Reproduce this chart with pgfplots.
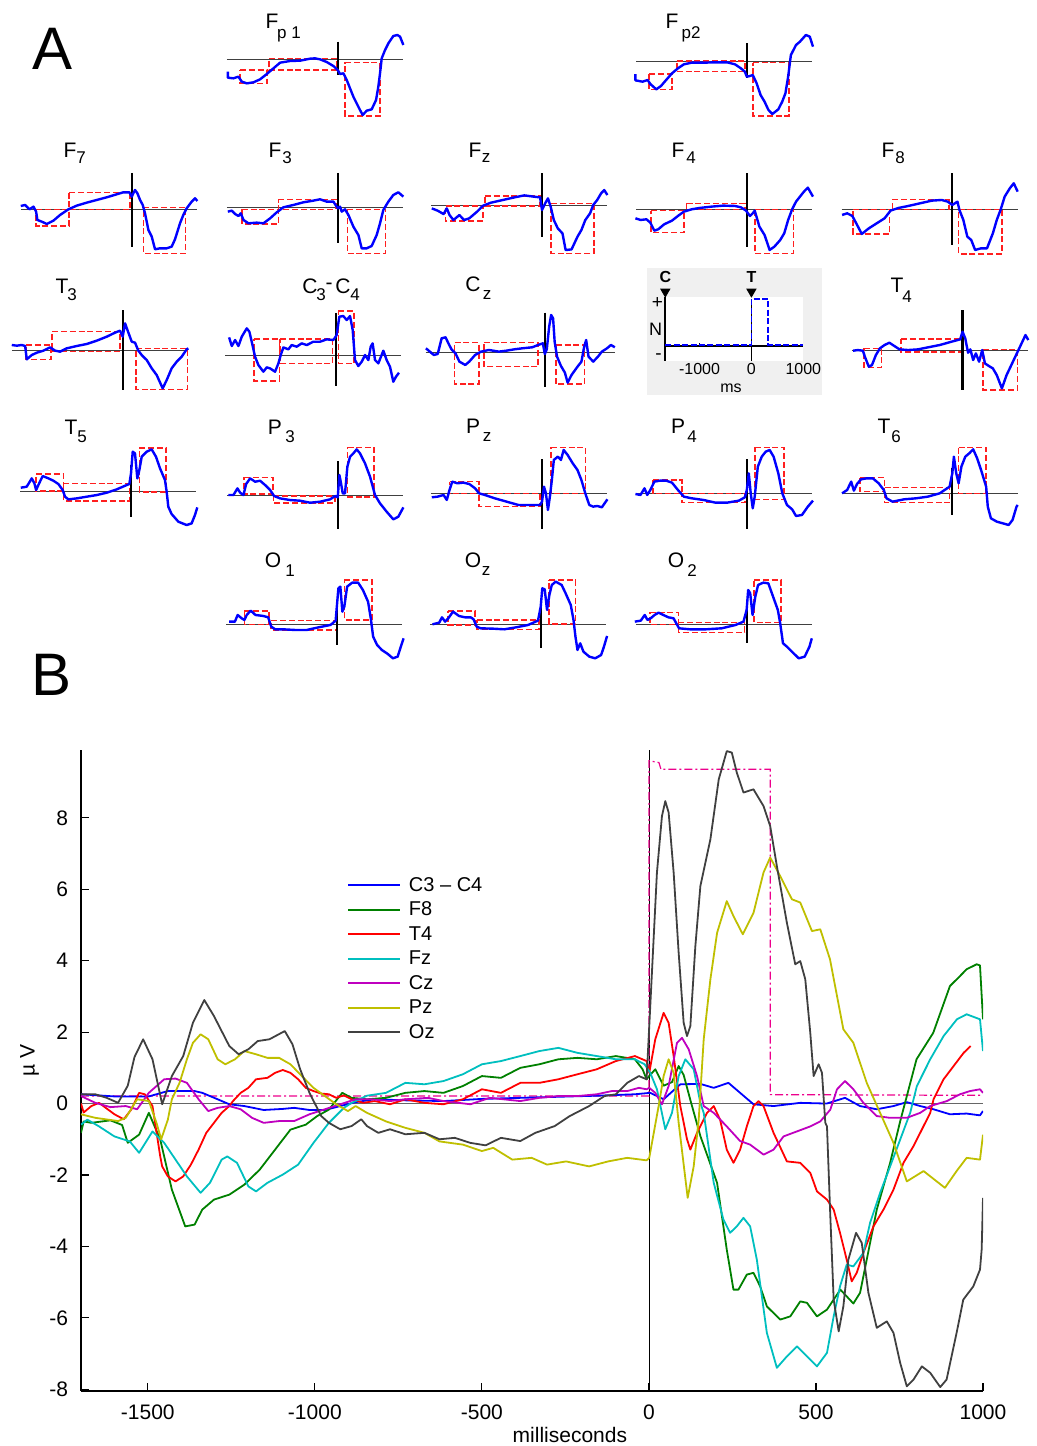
\documentclass[border=0pt]{standalone}
\usepackage{fontspec}
\setmainfont{Liberation Sans}
\usepackage{pgfplots}
\pgfplotsset{compat=1.18}
\definecolor{mcyan}{rgb}{0,0.75,0.75}
\definecolor{mmag}{rgb}{0.75,0,0.75}
\definecolor{myel}{rgb}{0.75,0.75,0}
\definecolor{mgreen}{rgb}{0,0.5,0}
\definecolor{mgray}{rgb}{0.25,0.25,0.25}
\definecolor{boxred}{rgb}{1,0.12,0.12}

% small electrode plots: #1 = left edge (px), #2 = zero line (px)
\pgfplotsset{
  mini/.style n args={2}{at={(#1*0.5pt,-#2*0.5pt)}, anchor=west,
    width=88pt, height=66.667pt, scale only axis,
    xmin=-1700, xmax=1000, ymin=-200, ymax=200,
    axis lines=none, ticks=none, clip=false},
  hline/.style={black!75, line width=0.5pt},
  vline/.style={black, line width=1.1pt},
  rbox/.style={boxred, line width=0.8pt, dash pattern=on 3pt off 1.4pt},
  trace/.style={blue, line width=1.2pt, line join=round},
  eeg/.style={line width=0.9pt, line join=round},
}
\newcommand\hl{\addplot[hline] coordinates {(-1700,0) (1000,0)};}
\newcommand\vl[2]{\addplot[vline] coordinates {(0,#1) (0,#2)};}
\newcommand\rbox[4]{\addplot[rbox] coordinates {(#1,#3) (#2,#3) (#2,#4) (#1,#4) (#1,#3)};}
\newcommand\lab[6]{%
  \node[font=\fontsize{10.5}{12}\selectfont] at ({#1*0.5pt},{-#2*0.5pt}) {#3};
  \node[font=\fontsize{8.5}{10}\selectfont] at ({#4*0.5pt},{-#5*0.5pt}) {#6};}

\begin{document}
\begin{tikzpicture}
\useasboundingbox (0,0) rectangle (518.5pt,-723pt);

\node[font=\fontsize{30}{36}\selectfont] at (26.25pt,-24.5pt) {A};
\node[font=\fontsize{30}{36}\selectfont] at (26pt,-337.5pt) {B};

% ---------------- panel A labels
\lab{272}{21}{F}{289}{34}{p 1}
\lab{672}{21}{F}{691}{34}{p2}
\lab{70}{150}{F}{81}{158}{7}
\lab{275}{150}{F}{287}{158}{3}
\lab{475}{150}{F}{486}{158}{z}
\lab{678}{150}{F}{691}{158}{4}
\lab{888}{150}{F}{900}{158}{8}
\lab{62}{286}{T}{72}{295}{3}
\lab{310}{286}{C}{321}{295}{3}
\lab{343}{286}{C}{355}{295}{4}
\node[font=\fontsize{10.5}{12}\selectfont] at (164.5pt,-143pt) {-};
\lab{473}{284}{C}{487}{295}{z}
\lab{897}{285}{T}{907}{297}{4}
\lab{71}{427}{T}{82}{437}{5}
\lab{275}{427}{P}{290}{437}{3}
\lab{473}{426}{P}{487}{437}{z}
\lab{678}{426}{P}{692}{437}{4}
\lab{884}{426}{T}{896}{437}{6}
\lab{273}{560}{O}{290}{571}{1}
\lab{473}{560}{O}{486}{571}{z}
\lab{676}{560}{O}{692}{571}{2}

% Fp1
\begin{axis}[mini={226.9}{59}]
\hl
\rbox{-1497}{-1088}{-33}{-73}
\rbox{-1053}{-15}{1}{-33}
\rbox{112}{649}{-10}{-171}
\vl{52}{-48}
\addplot[trace] coordinates {(-1686,-38)(-1686,-56)(-1600,-58)(-1523,-53)(-1472,-68)(-1395,-73)(-1293,-70)(-1191,-61)(-1088,-45)(-986,-28)(-884,-11)(-731,-6)(-577,-5)(-424,1)(-348,2)(-271,-1)(-169,-9)(-66,-21)(0,-33)(36,-45)(87,-43)(138,-63)(189,-88)(240,-113)(291,-133)(342,-153)(383,-168)(445,-155)(521,-151)(588,-123)(623,-83)(649,-43)(675,2)(726,27)(777,47)(853,69)(915,72)(956,67)(1007,42)};
\end{axis}
% Fp2
\begin{axis}[mini={636}{61}]
\hl
\rbox{-1498}{-1148}{-39}{-85}
\rbox{-1075}{-30}{0}{-32}
\rbox{91}{646}{-5}{-165}
\vl{53}{-52}
\addplot[trace] coordinates {(-1709,-39)(-1709,-58)(-1600,-62)(-1522,-57)(-1480,-69)(-1389,-85)(-1317,-75)(-1238,-57)(-1148,-37)(-1057,-22)(-966,-10)(-846,-5)(-664,-5)(-483,-4)(-302,-4)(-181,-10)(-91,-22)(-30,-32)(0,-47)(48,-45)(91,-42)(151,-67)(211,-102)(272,-122)(332,-147)(392,-159)(483,-145)(543,-122)(592,-97)(634,-47)(676,18)(755,48)(815,58)(906,78)(966,73)(1015,43)};
\end{axis}
% F7
\begin{axis}[mini={20.9}{209.3}]
\hl
\rbox{-1467}{-961}{0}{-50}
\rbox{-961}{-26}{51}{0}
\rbox{179}{828}{6}{-132}
\vl{109}{-114}
\addplot[trace] coordinates {(-1702,10)(-1635,13)(-1568,0)(-1507,8)(-1467,-7)(-1447,-32)(-1380,-37)(-1303,-44)(-1201,-34)(-1099,-17)(-971,0)(-843,11)(-690,20)(-537,28)(-383,36)(-230,45)(-128,51)(-36,51)(0,38)(51,58)(87,48)(128,28)(169,13)(204,-12)(256,-62)(307,-82)(358,-120)(434,-117)(537,-117)(613,-112)(664,-90)(741,-42)(792,-17)(843,3)(920,23)(971,33)(1007,25)};
\end{axis}
% F3
\begin{axis}[mini={226.9}{207.3}]
\hl
\rbox{-1472}{-910}{-6}{-50}
\rbox{-910}{-26}{24}{-6}
\rbox{148}{736}{-6}{-138}
\vl{103}{-108}
\addplot[trace] coordinates {(-1686,-13)(-1625,-10)(-1574,-20)(-1523,-26)(-1487,-18)(-1446,-38)(-1369,-48)(-1242,-46)(-1139,-48)(-1037,-33)(-935,-15)(-833,0)(-680,7)(-526,15)(-373,20)(-271,24)(-169,17)(-66,17)(0,-3)(36,2)(61,-13)(112,-6)(164,-23)(240,-58)(317,-83)(368,-123)(445,-123)(521,-116)(598,-83)(649,-48)(700,-8)(777,17)(853,37)(930,45)(1007,32)};
\end{axis}
% Fz
\begin{axis}[mini={431.2}{205.7}]
\hl
\rbox{-1480}{-906}{0}{-45}
\rbox{-876}{-30}{30}{0}
\rbox{139}{797}{7}{-143}
\vl{97}{-95}
\addplot[trace] coordinates {(-1691,-8)(-1600,-15)(-1510,-25)(-1461,-8)(-1419,-28)(-1359,-43)(-1268,-28)(-1196,-43)(-1117,-38)(-997,-18)(-906,0)(-785,9)(-604,17)(-423,25)(-272,31)(-121,27)(-30,25)(0,-13)(48,7)(91,22)(133,-3)(181,-43)(242,-68)(314,-83)(362,-133)(453,-131)(544,-93)(604,-73)(664,-43)(737,-23)(785,2)(846,17)(906,37)(954,47)(1003,32)};
\end{axis}
% F4
\begin{axis}[mini={636}{209.3}]
\hl
\rbox{-1468}{-966}{-4}{-70}
\rbox{-924}{-30}{18}{0}
\rbox{121}{713}{0}{-132}
\vl{108}{-114}
\addplot[trace] coordinates {(-1709,-27)(-1631,-32)(-1540,-30)(-1480,-40)(-1419,-64)(-1359,-60)(-1268,-45)(-1148,-34)(-1057,-20)(-966,-7)(-846,0)(-725,4)(-544,8)(-362,11)(-181,10)(-91,6)(-12,-4)(48,-20)(91,-12)(121,-4)(193,-52)(272,-77)(350,-122)(423,-112)(513,-92)(574,-72)(634,-32)(695,0)(755,23)(815,38)(876,53)(936,65)(1015,38)};
\end{axis}
% F8
\begin{axis}[mini={841.5}{209.3}]
\hl
\rbox{-1522}{-966}{0}{-74}
\rbox{-918}{-54}{30}{0}
\rbox{97}{761}{0}{-134}
\vl{108}{-107}
\addplot[trace] coordinates {(-1691,-17)(-1613,-12)(-1534,-20)(-1474,-42)(-1389,-74)(-1280,-57)(-1160,-42)(-1039,-27)(-948,-4)(-827,4)(-676,10)(-495,18)(-314,26)(-163,28)(-72,23)(0,13)(79,23)(109,-2)(169,-32)(230,-82)(290,-92)(350,-122)(441,-117)(532,-117)(622,-72)(682,-32)(743,0)(803,38)(882,63)(942,78)(1003,53)};
\end{axis}
% T3
\begin{axis}[mini={11.9}{350}]
\hl
\rbox{-1482}{-1104}{15}{-28}
\rbox{-1083}{-41}{55}{-5}
\rbox{204}{991}{5}{-118}
\vl{120}{-120}
\addplot[trace] coordinates {(-1702,15)(-1625,13)(-1549,15)(-1497,12)(-1472,-28)(-1395,-15)(-1318,-8)(-1216,-2)(-1114,8)(-1037,-2)(-961,-5)(-859,5)(-705,12)(-552,18)(-399,28)(-245,40)(-118,52)(-41,58)(0,40)(36,80)(87,52)(138,25)(189,22)(240,-2)(291,-15)(368,-30)(445,-55)(521,-75)(613,-115)(675,-90)(751,-55)(828,-35)(905,-20)(981,2)(1007,5)};
\end{axis}
% C3 - C4
\begin{axis}[mini={225.2}{355.7}]
\hl
\rbox{-1257}{-869}{50}{-75}
\rbox{-858}{-51}{50}{-23}
\rbox{36}{276}{134}{-23}
\vl{127}{-91}
\addplot[trace] coordinates {(-1640,55)(-1599,29)(-1548,47)(-1497,29)(-1446,57)(-1369,82)(-1329,72)(-1293,42)(-1242,-3)(-1191,-28)(-1114,-48)(-1063,-35)(-1012,-38)(-935,-48)(-884,-23)(-848,2)(-807,25)(-731,19)(-680,32)(-603,27)(-526,37)(-449,32)(-347,42)(-245,42)(-143,49)(-41,47)(10,62)(51,117)(112,119)(164,107)(215,119)(256,77)(291,-13)(342,-31)(394,-18)(445,2)(496,-13)(532,27)(562,37)(598,-13)(649,-23)(726,15)(777,-13)(828,-33)(879,-78)(920,-63)(966,-51)};
\end{axis}
% Cz
\begin{axis}[mini={425.5}{352.3}, width=94.75pt]
\hl
\rbox{-1285}{-937}{29}{-95}
\rbox{-870}{-95}{29}{-43}
\rbox{157}{567}{22}{-95}
\vl{119}{-103}
\addplot[trace] coordinates {(-1694,12)(-1638,2)(-1582,-8)(-1526,-5)(-1470,42)(-1414,45)(-1374,27)(-1330,9)(-1273,-3)(-1217,-28)(-1133,-38)(-1077,-28)(-993,-8)(-908,2)(-797,7)(-656,2)(-544,5)(-432,9)(-320,12)(-180,15)(-95,22)(-28,27)(0,-5)(28,9)(62,77)(90,112)(118,102)(140,32)(174,-13)(230,-41)(286,-61)(325,-91)(381,-68)(466,-43)(522,-28)(561,17)(589,37)(623,-13)(690,-28)(757,-13)(813,2)(886,12)(942,22)(998,15)};
\end{axis}
% T4
\begin{axis}[mini={851.7}{350.7}]
\hl
\rbox{-1510}{-1244}{7}{-50}
\rbox{-942}{-18}{35}{-3}
\rbox{314}{846}{4}{-118}
\vl{122}{-118}
\addplot[trace] coordinates {(-1679,0)(-1607,2)(-1528,0)(-1498,-18)(-1438,-48)(-1389,-43)(-1329,-13)(-1268,7)(-1196,17)(-1123,24)(-1045,14)(-966,4)(-834,2)(-683,4)(-532,10)(-350,17)(-169,27)(-36,34)(0,57)(42,37)(85,-6)(121,4)(163,-28)(205,-8)(254,-33)(302,2)(344,-38)(405,-46)(465,-53)(525,-73)(604,-113)(676,-73)(737,-48)(797,-23)(858,2)(918,27)(966,47)(1009,32)};
\end{axis}
% T5
\begin{axis}[mini={20.2}{491.7}]
\hl
\rbox{-1456}{-1037}{53}{3}
\rbox{-1037}{-26}{25}{-27}
\rbox{128}{537}{132}{0}
\vl{80}{-77}
\addplot[trace] coordinates {(-1691,12)(-1600,15)(-1523,40)(-1482,25)(-1456,5)(-1405,27)(-1354,47)(-1267,40)(-1191,33)(-1114,23)(-1048,5)(-1012,-15)(-961,-23)(-833,-20)(-680,-15)(-526,-10)(-373,-3)(-220,7)(-66,20)(-26,23)(0,55)(26,120)(61,115)(97,40)(128,65)(164,105)(240,120)(317,127)(383,105)(445,70)(521,35)(547,0)(572,-45)(623,-67)(726,-90)(853,-100)(930,-95)(981,-70)(1017,-47)};
\end{axis}
% P3
\begin{axis}[mini={226.9}{495.7}]
\hl
\rbox{-1436}{-997}{55}{5}
\rbox{-986}{-41}{0}{-21}
\rbox{153}{557}{145}{-3}
\vl{104}{-101}
\addplot[trace] coordinates {(-1676,2)(-1600,2)(-1538,22)(-1497,9)(-1446,2)(-1405,35)(-1344,52)(-1267,42)(-1191,45)(-1114,32)(-1037,17)(-976,-1)(-884,-8)(-731,-13)(-577,-15)(-424,-21)(-271,-18)(-118,-11)(-41,-1)(0,-5)(26,62)(51,37)(77,7)(112,7)(148,87)(189,117)(240,127)(291,139)(342,127)(419,97)(496,57)(572,2)(649,-23)(751,-48)(853,-71)(930,-63)(1007,-35)};
\end{axis}
% Pz
\begin{axis}[mini={431.2}{493.3}]
\hl
\rbox{-1419}{-966}{35}{0}
\rbox{-966}{-30}{0}{-40}
\rbox{139}{664}{138}{0}
\vl{102}{-108}
\addplot[trace] coordinates {(-1691,-12)(-1600,-10)(-1510,-5)(-1461,-20)(-1419,10)(-1377,35)(-1298,30)(-1208,32)(-1117,28)(-1027,15)(-966,0)(-876,-5)(-725,-15)(-544,-25)(-362,-35)(-181,-35)(-30,-35)(0,-25)(30,20)(60,0)(91,-50)(121,-10)(151,40)(181,100)(242,110)(290,100)(332,130)(393,115)(471,90)(544,70)(604,40)(664,0)(725,-35)(785,-40)(846,-38)(918,-42)(1003,-18)};
\end{axis}
% P4
\begin{axis}[mini={636}{493.3}]
\hl
\rbox{-1438}{-997}{40}{0}
\rbox{-997}{-30}{0}{-28}
\rbox{121}{574}{138}{-18}
\vl{102}{-108}
\addplot[trace] coordinates {(-1709,-2)(-1631,-5)(-1570,15)(-1528,-5)(-1480,10)(-1419,35)(-1329,38)(-1238,38)(-1148,32)(-1057,10)(-966,-10)(-846,-15)(-664,-20)(-483,-28)(-302,-28)(-121,-22)(-30,-12)(0,10)(30,60)(60,0)(91,-45)(121,-10)(169,80)(229,110)(290,125)(350,130)(411,110)(483,60)(544,0)(616,-35)(695,-48)(755,-68)(846,-65)(936,-40)(1015,-22)};
\end{axis}
% T6
\begin{axis}[mini={841.5}{493.3}]
\hl
\rbox{-1413}{-1039}{47}{5}
\rbox{-1039}{-42}{17}{-28}
\rbox{97}{519}{138}{0}
\vl{75}{-65}
\addplot[trace] coordinates {(-1691,0)(-1613,10)(-1552,35)(-1510,8)(-1462,28)(-1401,42)(-1311,45)(-1220,45)(-1130,30)(-1051,10)(-1009,-15)(-918,-25)(-737,-18)(-556,-15)(-374,-10)(-193,0)(-42,20)(0,60)(24,110)(60,60)(97,30)(139,80)(199,110)(260,120)(320,132)(381,105)(441,70)(519,20)(544,-40)(592,-75)(682,-85)(773,-90)(864,-95)(924,-80)(985,-40)(1003,-35)};
\end{axis}
% O1
\begin{axis}[mini={226.4}{624.3}]
\hl
\rbox{-1424}{-1042}{40}{0}
\rbox{-1012}{-12}{11}{-17}
\rbox{109}{533}{133}{13}
\vl{65}{-62}
\addplot[trace] coordinates {(-1660,8)(-1570,8)(-1527,28)(-1466,18)(-1424,13)(-1388,28)(-1327,41)(-1254,28)(-1133,25)(-1060,21)(-1012,-7)(-951,-15)(-830,-15)(-648,-17)(-467,-17)(-285,-9)(-103,-2)(-24,11)(18,108)(48,113)(79,38)(109,53)(152,113)(230,125)(321,125)(394,103)(473,68)(515,18)(551,-37)(612,-62)(685,-77)(776,-89)(854,-102)(927,-97)(976,-67)(1018,-42)};
\end{axis}
% Oz
\begin{axis}[mini={429.9}{624.3}]
\hl
\rbox{-1418}{-1012}{40}{-2}
\rbox{-982}{-24}{13}{-15}
\rbox{127}{533}{133}{1}
\vl{65}{-72}
\addplot[trace] coordinates {(-1660,0)(-1557,5)(-1515,21)(-1466,8)(-1418,18)(-1345,38)(-1254,25)(-1164,21)(-1073,21)(-1030,15)(-982,-7)(-921,-12)(-739,-13)(-558,-15)(-376,-9)(-194,-2)(-42,11)(0,53)(24,108)(61,105)(97,43)(133,88)(170,118)(230,128)(321,118)(382,93)(461,58)(503,13)(533,-37)(564,-77)(606,-57)(655,-82)(745,-97)(836,-102)(927,-92)(970,-67)(1018,-35)};
\end{axis}
% O2
\begin{axis}[mini={635.8}{624.3}]
\hl
\rbox{-1484}{-1048}{36}{0}
\rbox{-1048}{-30}{6}{-24}
\rbox{115}{527}{133}{5}
\vl{55}{-57}
\addplot[trace] coordinates {(-1715,8)(-1624,11)(-1563,28)(-1521,13)(-1472,18)(-1412,28)(-1351,35)(-1278,28)(-1200,21)(-1121,18)(-1079,3)(-1036,-12)(-867,-15)(-624,-15)(-382,-12)(-170,-2)(-48,8)(0,43)(24,103)(55,93)(91,28)(133,83)(176,118)(255,125)(333,123)(406,83)(479,43)(515,3)(558,-57)(618,-67)(709,-85)(800,-102)(891,-97)(964,-67)(1000,-42)};
\end{axis}

% ---------------- stimulus inset
\fill[black!6] (323.5pt,-134.15pt) rectangle (411pt,-197.5pt);
\begin{axis}[at={(332.65pt,-180.35pt)}, anchor=south west,
  width=69pt, height=32pt, scale only axis,
  xmin=-1660, xmax=1000, ymin=-14.7, ymax=49.3,
  axis background/.style={fill=white},
  axis line style={draw=none}, ytick=\empty,
  xtick={-1000,0,1000}, xticklabels={-1000,0,1000},
  xtick style={draw=none},
  xticklabel style={font=\fontsize{8}{9}\selectfont, yshift=2pt},
  xlabel={ms}, xlabel style={font=\fontsize{8}{9}\selectfont, at={(axis description cs:0.476,-0.43)}, anchor=center},
  clip=false]
\addplot[black, line width=0.9pt] coordinates {(-1660,0) (1000,0)};
\addplot[black, line width=0.9pt] coordinates {(-1660,-14.7) (-1660,49.3)};
\addplot[black, line width=0.5pt] coordinates {(0,-14.7) (0,47)};
\addplot[black, line width=0.4pt] coordinates {(-1000,0) (-1000,2.7)};
\addplot[blue, line width=0.8pt, dash pattern=on 3pt off 1.2pt] coordinates {(-1660,1) (0,1) (0,47) (323,47) (323,1) (1000,1)};
\addplot[only marks, mark=triangle*, mark size=2.6pt, mark options={rotate=180, fill=black, draw=black}] coordinates {(-1660,54.3) (0,54.3)};
\node[font=\bfseries\fontsize{8}{9}\selectfont] at (axis cs:-1660,69.3) {C};
\node[font=\bfseries\fontsize{8}{9}\selectfont] at (axis cs:0,69.3) {T};
\node[font=\fontsize{9.5}{10}\selectfont] at (axis cs:-1812,43.3) {+};
\node[font=\fontsize{9}{10}\selectfont] at (axis cs:-1848,17) {N};
\node[font=\fontsize{9.5}{10}\selectfont] at (axis cs:-1789,-10.7) {-};
\end{axis}

% ---------------- panel B
\begin{axis}[at={(40.5pt,-695.5pt)}, anchor=south west,
  width=451pt, height=320.5pt, scale only axis,
  xmin=-1700, xmax=1000, ymin=-8.05, ymax=9.9,
  axis x line=bottom, axis y line=left, axis line style={line width=1pt, -},
  xtick={-1500,-1000,-500,0,500,1000}, xticklabels={-1500,-1000,-500,0,500,1000},
  ytick={-8,-6,-4,-2,0,2,4,6,8}, yticklabels={-8,-6,-4,-2,0,2,4,6,8},
  tick align=inside, major tick length=4pt, tick style={black, line width=0.6pt},
  tick label style={font=\fontsize{10.5}{12}\selectfont},
  xticklabel style={yshift=-3.5pt}, yticklabel style={xshift=-3pt},
  xlabel={milliseconds}, ylabel={µ V},
  label style={font=\fontsize{10.5}{12}\selectfont},
  xlabel style={at={(axis description cs:0.542,-0.069)}, anchor=center},
  ylabel style={at={(axis description cs:-0.057,0.516)}, anchor=center},
  legend style={at={(axis description cs:0.288,0.815)}, anchor=north west,
    draw=none, fill=none, font=\fontsize{10}{12}\selectfont, row sep=0pt,
    nodes={inner sep=1pt, text height=8pt, text depth=2.25pt}},
  legend cell align=left,
  legend image code/.code={\draw[#1] (0pt,0pt) -- (26pt,0pt); \path (29pt,0pt);},
]
\addplot[black!60, line width=0.6pt, forget plot] coordinates {(-1700,0) (1000,0)};
\addplot[black, line width=0.4pt, forget plot] coordinates {(0,-8.05) (0,9.9)};
\addplot[magenta, line width=0.6pt, dash pattern=on 4pt off 1.5pt on 1pt off 1.5pt, forget plot] coordinates {(-1700,0.21) (0,0.21) (0,9.6) (30,9.55) (36,9.36) (363,9.36) (363,0.25) (1000,0.23)};

\addplot[eeg, blue] coordinates {(-1700,0.26)(-1600,0.2)(-1497,0.2)(-1440,0.35)(-1360,0.35)(-1337,0.3)(-1291,0.12)(-1256,-0.02)(-1211,-0.07)(-1153,-0.18)(-1096,-0.15)(-1062,-0.12)(-1016,-0.18)(-970,-0.18)(-924,-0.07)(-878,0.04)(-821,0.12)(-729,0.09)(-615,0.07)(-500,0.13)(-385,0.16)(-271,0.19)(-156,0.22)(-42,0.26)(4,0.3)(44,0.12)(94,0.54)(154,0.55)(194,0.44)(238,0.58)(273,0.3)(313,-0.02)(373,-0.07)(453,0.02)(532,0)(587,0.16)(632,-0.07)(682,-0.16)(732,-0.07)(772,0.04)(812,-0.07)(852,-0.16)(901,-0.3)(951,-0.28)(991,-0.33)(1000,-0.21)};
\addlegendentry{C3 – C4}
\addplot[eeg, mgreen] coordinates {(-1700,-0.82)(-1692,-0.5)(-1669,-0.54)(-1612,-0.47)(-1577,-0.6)(-1560,-1.1)(-1526,-0.87)(-1497,-0.26)(-1463,-1.0)(-1428,-2.41)(-1388,-3.44)(-1360,-3.39)(-1337,-2.97)(-1302,-2.69)(-1256,-2.55)(-1211,-2.27)(-1165,-1.85)(-1119,-1.29)(-1073,-0.73)(-1027,-0.59)(-993,-0.35)(-958,-0.17)(-918,0.3)(-890,0.16)(-844,0.12)(-787,0.16)(-729,0.3)(-672,0.35)(-615,0.3)(-557,0.49)(-500,0.77)(-443,0.72)(-385,1.0)(-328,1.1)(-271,1.24)(-214,1.28)(-156,1.24)(-99,1.33)(-42,1.24)(-19,0.96)(-7,0.68)(1,0.77)(19,0.96)(44,0.5)(69,0.6)(89,1.05)(104,0.8)(124,0.1)(154,-0.91)(204,-2.22)(233,-4.09)(253,-5.21)(268,-5.21)(293,-4.79)(313,-4.74)(333,-5.12)(353,-5.68)(393,-6.05)(423,-5.96)(453,-5.54)(473,-5.58)(503,-5.96)(533,-5.77)(573,-5.21)(592,-5.4)(612,-5.6)(632,-5.3)(652,-4.37)(682,-2.97)(722,-1.66)(752,-0.5)(801,1.24)(851,1.98)(901,3.29)(931,3.57)(951,3.76)(981,3.9)(991,3.87)(1000,2.36)};
\addlegendentry{F8}
\addplot[eeg, red] coordinates {(-1700,0)(-1692,-0.25)(-1669,-0.07)(-1646,0.02)(-1600,-0.3)(-1572,-0.44)(-1549,-0.16)(-1526,0.3)(-1509,0.26)(-1486,-0.07)(-1463,-1.47)(-1457,-1.76)(-1440,-2.04)(-1417,-2.18)(-1394,-2.04)(-1371,-1.71)(-1348,-1.29)(-1325,-0.82)(-1302,-0.54)(-1279,-0.26)(-1256,-0.07)(-1245,0.07)(-1222,0.3)(-1199,0.44)(-1176,0.68)(-1142,0.72)(-1119,0.86)(-1096,0.94)(-1073,0.86)(-1050,0.68)(-1027,0.44)(-1004,0.35)(-981,0.28)(-958,0.26)(-936,0.16)(-913,0.23)(-890,0.12)(-855,0.02)(-821,0.07)(-775,-0.02)(-729,0.12)(-672,0.02)(-615,-0.02)(-557,0.12)(-500,0.4)(-443,0.3)(-385,0.58)(-328,0.58)(-271,0.68)(-214,0.82)(-156,0.96)(-99,1.19)(-42,1.33)(-7,1.19)(1,0.86)(19,1.8)(44,2.54)(59,2.26)(74,1.33)(94,-0.07)(114,-1.0)(124,-1.29)(144,-0.82)(174,-0.26)(194,-0.07)(213,-0.45)(233,-1.29)(253,-1.66)(273,-1.29)(293,-0.64)(313,-0.07)(328,0.07)(343,-0.07)(373,-0.82)(413,-1.62)(453,-1.66)(483,-1.94)(503,-2.46)(533,-2.69)(553,-2.97)(572,-3.62)(592,-4.37)(607,-4.98)(622,-4.74)(642,-4.18)(672,-3.44)(702,-2.97)(732,-2.41)(762,-1.66)(792,-1.19)(812,-0.82)(842,-0.26)(852,0.12)(882,0.68)(912,1.05)(942,1.42)(963,1.61)};
\addlegendentry{T4}
\addplot[eeg, mcyan] coordinates {(-1700,-0.59)(-1681,-0.45)(-1646,-0.64)(-1600,-0.92)(-1554,-1.06)(-1526,-1.38)(-1486,-0.78)(-1451,-1.1)(-1417,-1.57)(-1383,-2.04)(-1342,-2.5)(-1314,-2.22)(-1279,-1.57)(-1262,-1.48)(-1233,-1.66)(-1199,-2.32)(-1176,-2.46)(-1142,-2.22)(-1096,-1.99)(-1050,-1.71)(-1004,-1.1)(-958,-0.54)(-913,-0.12)(-890,0.02)(-844,0.22)(-787,0.3)(-729,0.58)(-672,0.54)(-615,0.63)(-557,0.82)(-500,1.1)(-443,1.19)(-385,1.33)(-328,1.47)(-271,1.56)(-214,1.42)(-156,1.33)(-99,1.24)(-42,1.24)(-13,1.1)(4,0.86)(24,0.4)(49,-0.72)(69,-0.26)(89,0.77)(109,1.24)(134,0.96)(154,0.02)(164,-0.26)(194,-2.22)(223,-3.25)(243,-3.62)(263,-3.44)(283,-3.2)(303,-3.44)(323,-4.37)(353,-6.42)(383,-7.4)(413,-7.08)(443,-6.8)(473,-7.08)(503,-7.36)(533,-6.98)(553,-5.96)(572,-5.12)(592,-4.51)(612,-4.56)(642,-4.18)(662,-3.34)(692,-2.5)(722,-1.76)(752,-1.01)(782,-0.26)(802,0.49)(842,1.24)(882,1.89)(922,2.36)(951,2.5)(991,2.36)(1000,1.47)};
\addlegendentry{Fz}
\addplot[eeg, mmag] coordinates {(-1700,0.21)(-1657,0.02)(-1612,-0.1)(-1566,-0.07)(-1532,-0.16)(-1497,0.3)(-1451,0.68)(-1417,0.7)(-1383,0.58)(-1348,0.12)(-1319,-0.21)(-1291,-0.12)(-1256,-0.07)(-1222,-0.16)(-1188,-0.4)(-1153,-0.54)(-1107,-0.49)(-1062,-0.49)(-1016,-0.3)(-970,-0.16)(-924,-0.02)(-878,0.12)(-832,0.12)(-775,0.07)(-729,0.12)(-661,0.16)(-615,0.07)(-534,-0.02)(-477,0.16)(-385,0.07)(-328,0.16)(-271,0.21)(-214,0.21)(-156,0.26)(-111,0.35)(-65,0.35)(-30,0.44)(-7,0.4)(1,0.44)(19,0.3)(39,-0.02)(59,0.49)(84,1.7)(99,1.84)(119,1.52)(144,0.77)(164,-0.07)(194,-0.26)(233,-0.64)(273,-1.05)(303,-1.15)(343,-1.43)(373,-1.29)(403,-0.92)(443,-0.78)(483,-0.64)(513,-0.5)(543,-0.17)(563,0.4)(587,0.63)(612,0.4)(642,0.02)(682,-0.35)(722,-0.4)(772,-0.4)(812,-0.26)(842,-0.07)(892,0.07)(931,0.26)(961,0.35)(991,0.4)(1000,0.3)};
\addlegendentry{Cz}
\addplot[eeg, myel] coordinates {(-1700,-0.3)(-1657,-0.4)(-1589,-0.49)(-1566,-0.4)(-1532,0.12)(-1497,0.07)(-1474,-0.54)(-1460,-1.0)(-1440,-0.45)(-1428,0.12)(-1405,0.58)(-1383,1.24)(-1365,1.7)(-1342,1.94)(-1319,1.8)(-1291,1.24)(-1268,1.1)(-1239,1.24)(-1211,1.47)(-1176,1.38)(-1142,1.28)(-1107,1.28)(-1073,1.1)(-1039,0.77)(-1004,0.44)(-970,0.21)(-936,-0.02)(-901,-0.21)(-878,-0.07)(-844,-0.26)(-787,-0.5)(-729,-0.68)(-672,-0.82)(-627,-1.06)(-557,-1.15)(-500,-1.33)(-466,-1.24)(-409,-1.57)(-351,-1.52)(-305,-1.71)(-248,-1.62)(-179,-1.76)(-122,-1.62)(-65,-1.52)(-7,-1.59)(1,-1.52)(29,-0.07)(44,0.77)(59,1.24)(74,0.86)(89,-0.54)(116,-2.64)(134,-1.76)(149,-0.45)(164,1.8)(184,3.48)(204,4.78)(233,5.67)(253,5.25)(281,4.74)(313,5.34)(343,6.47)(363,6.89)(393,6.37)(428,5.72)(453,5.63)(488,4.83)(513,4.88)(542,4.04)(582,2.08)(612,1.7)(652,0.58)(692,-0.26)(732,-1.1)(772,-2.18)(822,-1.89)(886,-2.36)(921,-1.89)(951,-1.52)(991,-1.57)(1000,-0.87)};
\addlegendentry{Pz}
\addplot[eeg, mgray] coordinates {(-1700,0.26)(-1657,0.26)(-1623,0.16)(-1589,0.02)(-1560,0.5)(-1540,1.3)(-1514,1.8)(-1486,1.24)(-1457,-0.02)(-1428,0.77)(-1394,1.33)(-1365,2.26)(-1331,2.9)(-1302,2.45)(-1256,1.61)(-1228,1.38)(-1199,1.52)(-1171,1.75)(-1136,1.8)(-1090,2.03)(-1067,1.66)(-1044,0.96)(-1016,0.3)(-981,-0.35)(-958,-0.54)(-924,-0.72)(-890,-0.63)(-861,-0.44)(-844,-0.63)(-810,-0.82)(-775,-0.72)(-729,-0.86)(-672,-0.82)(-627,-1.0)(-581,-0.96)(-535,-1.1)(-489,-1.17)(-443,-0.96)(-385,-1.05)(-340,-0.82)(-282,-0.63)(-237,-0.35)(-179,-0.07)(-133,0.21)(-99,0.26)(-65,0.58)(-30,0.77)(-7,0.68)(4,2.73)(24,6.47)(39,8.05)(49,8.47)(59,8.15)(74,6.47)(89,4.22)(104,2.26)(114,1.89)(124,2.17)(139,4.41)(154,6.09)(184,7.4)(209,9.08)(233,9.87)(248,9.83)(263,9.27)(283,8.71)(313,8.8)(343,8.33)(363,7.77)(383,6.65)(413,5.06)(438,3.9)(453,3.99)(468,3.48)(483,1.98)(493,0.77)(508,1.1)(518,0.86)(528,-0.54)(533,-0.64)(543,-3.16)(553,-5.49)(568,-6.38)(582,-5.68)(597,-4.37)(620,-3.62)(637,-3.9)(657,-5.3)(682,-6.28)(712,-6.1)(732,-6.42)(752,-7.26)(772,-7.92)(792,-7.73)(817,-7.36)(842,-7.54)(872,-7.94)(891,-7.73)(921,-6.42)(941,-5.49)(971,-5.12)(991,-4.65)(996,-4.09)(1000,-2.64)};
\addlegendentry{Oz}
\end{axis}
\end{tikzpicture}
\end{document}
